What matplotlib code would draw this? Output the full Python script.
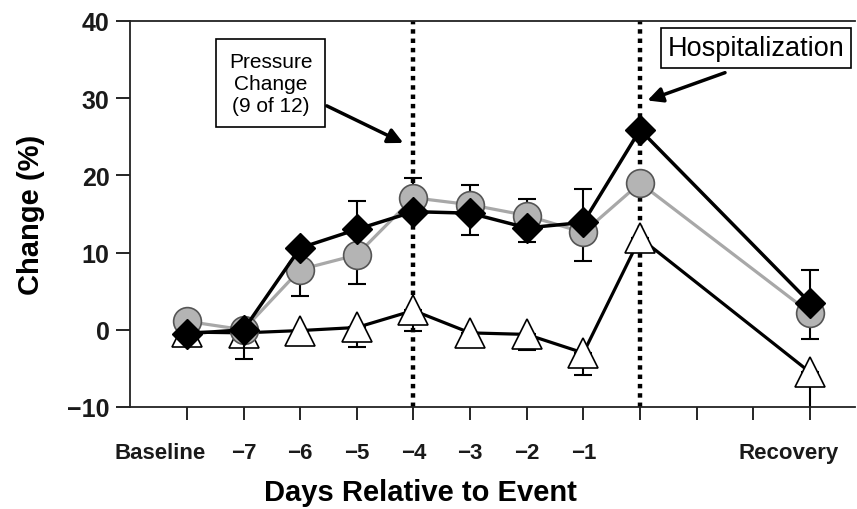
#!/usr/bin/env python3
# -*- coding: utf-8 -*-

import numpy as np
import matplotlib
matplotlib.use("Agg")
import matplotlib.pyplot as plt
import matplotlib.transforms as mtransforms

plt.rcParams["font.family"] = ["Liberation Sans", "DejaVu Sans"]

# x 위치 (Baseline=0 ... Hospitalization=8, Recovery=11)
X_POS = [0, 1, 2, 3, 4, 5, 6, 7, 8, 11]
TICK_POS = list(range(12))
TICK_LABELS = ["Baseline", "\u22127", "\u22126", "\u22125", "\u22124",
               "\u22123", "\u22122", "\u22121", "", "", "", "Recovery"]

# series values
diamond = [-0.5, 0.0, 10.6, 13.0, 15.3, 15.1, 13.2, 13.9, 25.9, 3.5]
circle = [1.1, 0.0, 7.8, 9.7, 17.1, 16.2, 14.8, 12.6, 19.0, 2.2]
triangle = [-0.3, -0.4, -0.1, 0.3, 2.5, -0.4, -0.6, -3.0, 11.9, -5.5]

# one-sided error bars (lower, upper)
diamond_lo = [0, 0, 0, 0, 0, 2.8, 1.8, 0, 0, 0]
diamond_hi = [0, 0, 0, 3.7, 0, 0, 0, 4.3, 0, 4.2]
circle_lo = [0, 3.8, 3.4, 3.8, 0, 0, 0, 3.7, 0, 3.4]
circle_hi = [0, 0, 0, 0, 2.5, 2.6, 2.2, 0, 0, 0]
triangle_lo = [0, 0, 0, 2.5, 2.6, 0, 2.0, 2.9, 0, 4.8]
triangle_hi = [0] * 10

EVENT_LINES = [4, 8]


def main():
    fig = plt.figure(figsize=(8.57, 5.10), dpi=100)
    ax = fig.add_axes([0.152, 0.2, 0.846, 0.757])

    # 세로 점선 (pressure change, hospitalization)
    for xv in EVENT_LINES:
        ax.plot([xv, xv], [-10, 40], color="black", lw=3.2,
                dashes=(1, 1.1), zorder=1, dash_capstyle="butt")

    err_kw = dict(ecolor="black", elinewidth=1.5, capsize=6.5, capthick=1.5,
                  linestyle="none")

    ax.errorbar(X_POS, triangle, yerr=[triangle_lo, triangle_hi], zorder=2,
                **err_kw)
    ax.plot(X_POS, triangle, color="black", lw=2.3, marker="^",
            markersize=21, markerfacecolor="white",
            markeredgecolor="black", markeredgewidth=1.2, zorder=3)

    ax.errorbar(X_POS, circle, yerr=[circle_lo, circle_hi], zorder=4,
                **err_kw)
    ax.plot(X_POS, circle, color="#a8a8a8", lw=2.3, marker="o",
            markersize=20, markerfacecolor="#b4b4b4",
            markeredgecolor="#555555", markeredgewidth=1.2, zorder=5)

    ax.errorbar(X_POS, diamond, yerr=[diamond_lo, diamond_hi], zorder=6,
                **err_kw)
    ax.plot(X_POS, diamond, color="black", lw=2.5, marker="D",
            markersize=15, markerfacecolor="black",
            markeredgecolor="black", zorder=7)

    ax.set_xlim(-1, 11.8)
    ax.set_ylim(-10, 40)
    ax.set_yticks([-10, 0, 10, 20, 30, 40])
    ax.set_yticklabels(["\u221210", "0", "10", "20", "30", "40"])
    ax.set_xticks(TICK_POS)
    ax.set_xticklabels(TICK_LABELS)

    ax.spines["right"].set_visible(False)
    for sp in ["left", "bottom", "top"]:
        ax.spines[sp].set_linewidth(1.3)
        ax.spines[sp].set_color("#222222")

    ax.tick_params(axis="y", direction="out", length=10, width=1.2,
                   labelsize=18, pad=5)
    ax.tick_params(axis="x", direction="out", length=9, width=1.2,
                   labelsize=16, pad=16)
    for lbl in ax.get_xticklabels() + ax.get_yticklabels():
        lbl.set_fontweight("bold")
        lbl.set_color("#1a1a1a")

    # Baseline / Recovery 라벨은 조금 왼쪽으로
    xlabels = ax.get_xticklabels()
    for idx, dx in [(0, -27), (11, -21)]:
        off = mtransforms.ScaledTranslation(dx / 100.0, 0, fig.dpi_scale_trans)
        xlabels[idx].set_transform(xlabels[idx].get_transform() + off)

    ax.set_ylabel("Change (%)", fontsize=21, fontweight="bold", labelpad=16)
    ax.set_xlabel("Days Relative to Event", fontsize=21, fontweight="bold")
    ax.xaxis.set_label_coords(0.40, -0.185)

    # annotation boxes
    arrow = dict(arrowstyle="-|>,head_length=0.9,head_width=0.45",
                 color="black", lw=2.5, shrinkA=0, shrinkB=0)

    ax.text(1.48, 31.9, "Pressure\nChange\n(9 of 12)", ha="center",
            va="center", fontsize=15, linespacing=1.2, zorder=8,
            bbox=dict(boxstyle="square,pad=0.6", facecolor="white",
                      edgecolor="black", linewidth=1.2))
    ax.annotate("", xy=(3.82, 24.2), xytext=(2.47, 29.0),
                arrowprops=arrow, zorder=8)

    ax.text(10.05, 36.5, "Hospitalization", ha="center", va="center",
            fontsize=19.5, zorder=8,
            bbox=dict(boxstyle="square,pad=0.25", facecolor="white",
                      edgecolor="black", linewidth=1.2))
    ax.annotate("", xy=(8.13, 29.7), xytext=(9.5, 33.3),
                arrowprops=arrow, zorder=8)

    fig.savefig("out.png", dpi=100)
    plt.close(fig)


if __name__ == "__main__":
    main()
